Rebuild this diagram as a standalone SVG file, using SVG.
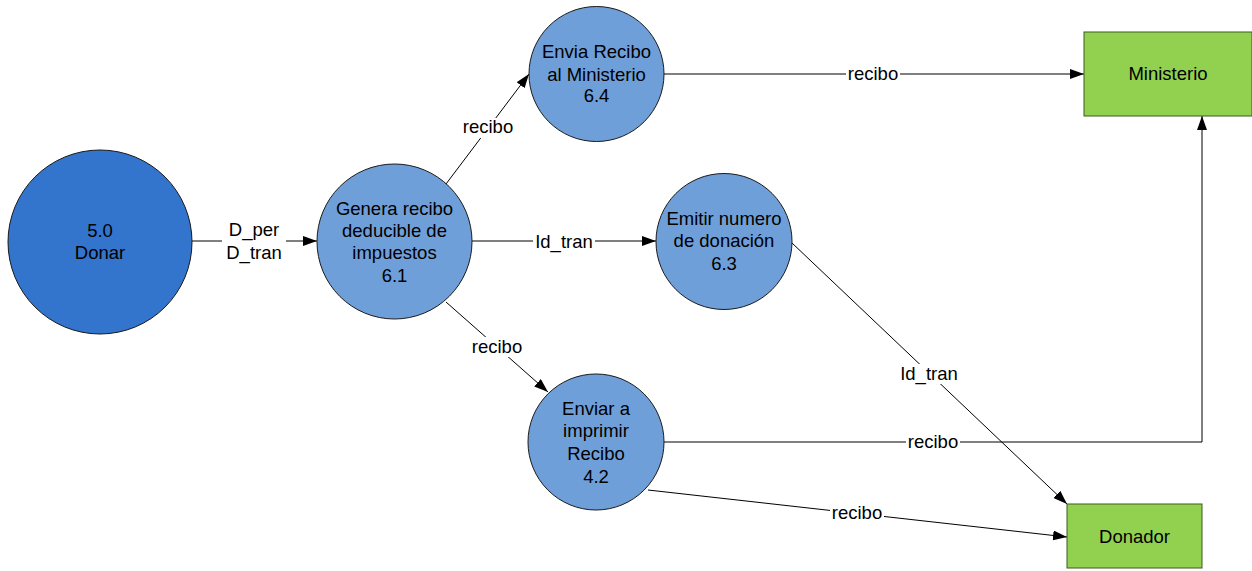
<svg xmlns="http://www.w3.org/2000/svg" width="1252" height="571" viewBox="0 0 1252 571">
<style>
text{font-family:"Liberation Sans",Arial,sans-serif;font-size:18.5px;fill:#000;text-anchor:middle}
.proc{fill:#6f9fd9;stroke:#1a1a1a;stroke-width:1}
.ent{fill:#92d050;stroke:#3c5a1e;stroke-width:1}
.c{fill:none;stroke:#000;stroke-width:1}
.lbl{fill:#fff}
</style>
<defs>
<marker id="ah" viewBox="0 0 14 10" refX="14" refY="5" markerWidth="14" markerHeight="10" markerUnits="userSpaceOnUse" orient="auto">
<path d="M0,0 L14,5 L0,10 z" fill="#000"/>
</marker>
</defs>
<g id="connectors">
<line class="c" x1="192" y1="241" x2="317" y2="241" marker-end="url(#ah)"/>
<rect class="lbl" x="222" y="220" width="64" height="44"/>
<text x="254" y="236">D_per</text>
<text x="254" y="259">D_tran</text>
<line class="c" x1="446" y1="184" x2="529" y2="74" marker-end="url(#ah)"/>
<rect class="lbl" x="460" y="118" width="56" height="20"/>
<text x="488" y="133">recibo</text>
<line class="c" x1="472" y1="241" x2="656" y2="241" marker-end="url(#ah)"/>
<rect class="lbl" x="533" y="231" width="62" height="20"/>
<text x="564" y="248">Id_tran</text>
<line class="c" x1="446" y1="302" x2="548" y2="392" marker-end="url(#ah)"/>
<rect class="lbl" x="469" y="337" width="56" height="20"/>
<text x="497" y="353">recibo</text>
<line class="c" x1="664" y1="74" x2="1084" y2="74" marker-end="url(#ah)"/>
<rect class="lbl" x="846" y="64" width="54" height="20"/>
<text x="873" y="80">recibo</text>
<polyline class="c" points="664,442 1202,442 1202,116" marker-end="url(#ah)"/>
<rect class="lbl" x="906" y="432" width="54" height="20"/>
<text x="933" y="448">recibo</text>
<line class="c" x1="792" y1="243" x2="1067" y2="504" marker-end="url(#ah)"/>
<rect class="lbl" x="897" y="364" width="64" height="20"/>
<text x="929" y="380">Id_tran</text>
<line class="c" x1="648" y1="490" x2="1067" y2="537" marker-end="url(#ah)"/>
<rect class="lbl" x="830" y="503" width="54" height="20"/>
<text x="857" y="519">recibo</text>
</g>
<g id="n50">
<circle cx="100" cy="242" r="92" fill="#3374cc" stroke="#1a1a1a" stroke-width="1"/>
<text x="100" y="237">5.0</text>
<text x="100" y="259">Donar</text>
</g>
<g id="n61">
<circle class="proc" cx="394.5" cy="241.5" r="77.5"/>
<text x="394.5" y="215">Genera recibo</text>
<text x="394.5" y="237">deducible de</text>
<text x="394.5" y="259">impuestos</text>
<text x="394.5" y="282">6.1</text>
</g>
<g id="n64">
<circle class="proc" cx="596.5" cy="74" r="67.5"/>
<text x="596.5" y="58">Envia Recibo</text>
<text x="596.5" y="81">al Ministerio</text>
<text x="596.5" y="102">6.4</text>
</g>
<g id="n63">
<circle class="proc" cx="724" cy="241.5" r="68"/>
<text x="724" y="225">Emitir numero</text>
<text x="724" y="247">de donación</text>
<text x="724" y="270">6.3</text>
</g>
<g id="n42">
<circle class="proc" cx="596" cy="442" r="68"/>
<text x="596" y="415">Enviar a</text>
<text x="596" y="437">imprimir</text>
<text x="596" y="460">Recibo</text>
<text x="596" y="483">4.2</text>
</g>
<g id="ministerio">
<rect class="ent" x="1084" y="32" width="168" height="84"/>
<text x="1168" y="80">Ministerio</text>
</g>
<g id="donador">
<rect class="ent" x="1067" y="504" width="135" height="64"/>
<text x="1134.5" y="543">Donador</text>
</g>
</svg>
